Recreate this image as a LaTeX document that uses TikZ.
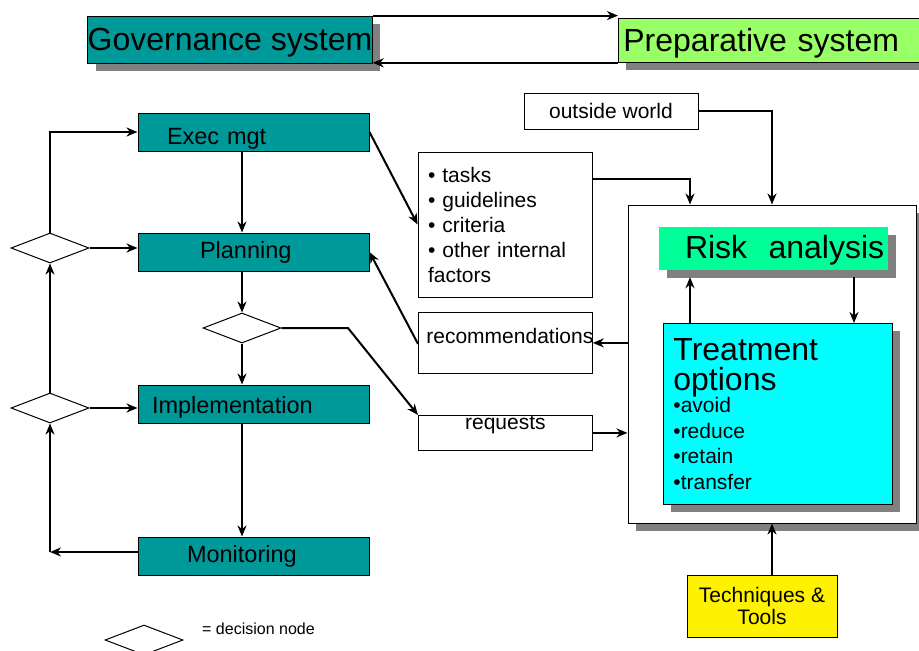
\documentclass[tikz,border=0pt]{standalone}
\usepackage{fontspec}
\setmainfont{Liberation Sans}
\usetikzlibrary{arrows.meta,shapes.geometric,shadows}
\definecolor{tealbox}{HTML}{009999}
\definecolor{prepgreen}{HTML}{99FF66}
\definecolor{mint}{HTML}{00FF99}
\definecolor{aqua}{HTML}{00FFFF}
\definecolor{shadowgray}{HTML}{808080}
\tikzstyle{dropsh}=[drop shadow={shadow xshift=8pt, shadow yshift=-8pt, fill=shadowgray, opacity=1}]
\tikzstyle{sysbox}=[inner sep=0pt, font=\fontsize{32}{36}\selectfont]
\tikzstyle{stage}=[draw, line width=1pt, fill=tealbox, minimum width=231pt, minimum height=38pt, inner ysep=0pt, align=left, font=\fontsize{23.5}{28}\selectfont]
\tikzstyle{choice}=[diamond, draw, line width=1pt, minimum width=78pt, minimum height=30pt, inner sep=0pt]
\tikzstyle{note}=[draw, line width=0.8pt, fill=white, inner sep=0pt, minimum width=174pt, font=\fontsize{21}{25}\selectfont]
\tikzstyle{arr}=[-{Stealth[length=11pt, width=9pt, inset=3.5pt]}, line width=2pt]

\begin{document}
\begin{tikzpicture}[x=1pt, y=-1pt]
    \useasboundingbox (0, 0) rectangle (919, 651);
    % top systems
    \node[sysbox, fill=tealbox, draw, line width=0.8pt, dropsh, minimum width=280pt, minimum height=47pt, text depth=0pt] (gov) at (230, 39.5) {Governance system};
    \node[sysbox, fill=prepgreen, draw, line width=0.8pt, dropsh, anchor=north west, minimum height=44pt, text depth=0pt, text width=300pt, inner xsep=5pt, align=left] (prep) at (618, 18) {Preparative system};
    % management cycle
    \node[stage, inner xsep=29pt, text width=173pt, text height=29pt] (exec) at (253.5, 132) {Exec mgt};
    \node[stage, inner xsep=62pt, text width=107pt] (plan) at (253.5, 252) {Planning};
    \node[stage, inner xsep=14pt, text width=203pt, text height=23pt] (impl) at (253.5, 404) {Implementation};
    \node[stage, inner xsep=49pt, text width=133pt] (mon) at (253.5, 556) {Monitoring};
    \node[choice] (d1) at (50, 248) {};
    \node[choice] (d2) at (50, 408) {};
    \node[choice] (d3) at (242, 328) {};
    \coordinate (c1) at (50, 552);
    \coordinate (c2) at (348, 328);
    % inputs and outputs
    \node[note, minimum height=145pt, text width=154pt, inner xsep=10pt, align=left] (tasks) at (505, 224.5)
        {• tasks\\• guidelines\\• criteria\\• other internal\\factors};
    \node[note, minimum height=36pt] (world) at (611, 111) {outside world};
    \node[note, anchor=north west, text width=158pt, inner xsep=8pt, align=left, text height=31pt, text depth=30pt] (rec) at (418, 312) {recommendations};
    \node[note, anchor=north west, text height=14pt, text depth=21pt] (req) at (418, 415) {requests};
    % risk area
    \node[draw, line width=1pt, fill=white, dropsh, minimum width=288pt, minimum height=318pt, inner sep=0pt] (ra) at (772, 364) {};
    \node[sysbox, fill=mint, dropsh, minimum width=229pt, minimum height=43pt, text depth=3pt, inner xsep=26pt, text width=177pt, align=left] (risk) at (773.5, 248.5) {\mbox{Risk~~analysis}};
    \node[draw, line width=0.8pt, fill=aqua, dropsh, anchor=north west, minimum height=181pt, text width=209pt, inner xsep=10pt, inner ysep=0pt, align=left, font=\fontsize{21}{25.5}\selectfont] (treat) at (663, 323)
        {\fontsize{32}{30}\selectfont Treatment\\options\\[-3pt]\fontsize{21}{25.5}\selectfont •avoid\\•reduce\\•retain\\•transfer};
    \node[draw, line width=0.8pt, fill=yellow, minimum width=150pt, minimum height=62pt, inner sep=0pt, align=center, font=\fontsize{21}{22}\selectfont] (tools) at (762, 606) {Techniques \&\\Tools};
    \coordinate (c3) at (690, 179);
    \coordinate (c4) at (772, 111);
    \coordinate (c5) at (854, 300);
    % legend
    \node[choice] (dk) at (144, 640) {};
    \node[anchor=west, inner sep=0pt, font=\fontsize{16}{19}\selectfont] (key) at (202, 629) {= decision node};

    \draw[arr] (gov.north east) -- (gov.north east -| prep.west);
    \draw[arr] (prep.south west) -- (prep.south west -| gov.east);
    \draw[arr] (exec.south -| d3) -- (plan.north -| d3);
    \draw[arr] (plan.south -| d3) -- (d3.north);
    \draw[arr] (d3.south) -- (impl.north -| d3);
    \draw[arr] (impl.south -| d3) -- (mon.north -| d3);
    \draw[arr] (mon.west |- c1) -- (c1);
    \draw[arr] (c1) -- (d2.south);
    \draw[arr] (d2.north) -- (d1.south);
    \draw[arr] (d2.east) -- (d2.east -| impl.west);
    \draw[arr] (d1.east) -- (d1.east -| plan.west);
    \draw[arr] (d1.north) |- (exec.west);
    \draw[arr] (exec.east) -- (tasks.west);
    \draw[arr] (d3.east) -- (c2) -- (req.north west);
    \draw[arr] ([yshift=-1pt]rec.west) -- (plan.east);
    \draw[arr] (ra.west |- rec.east) -- (rec.east);
    \draw[arr] (req.east) -- (req.east -| ra.west);
    \draw[arr] (c3 -| tasks.east) -- (c3) -- (c3 |- ra.north);
    \draw[arr] (world.east) -- (c4) -- (c4 |- ra.north);
    \draw[arr] (c3 |- treat.north) -- ([yshift=-7pt]c3 |- risk.south);
    \draw[arr] ([yshift=-7pt]c5 |- risk.south) -- (c5 |- treat.north);
    \draw[arr] (c4 |- tools.north) -- (c4 |- ra.south);
\end{tikzpicture}
\end{document}
